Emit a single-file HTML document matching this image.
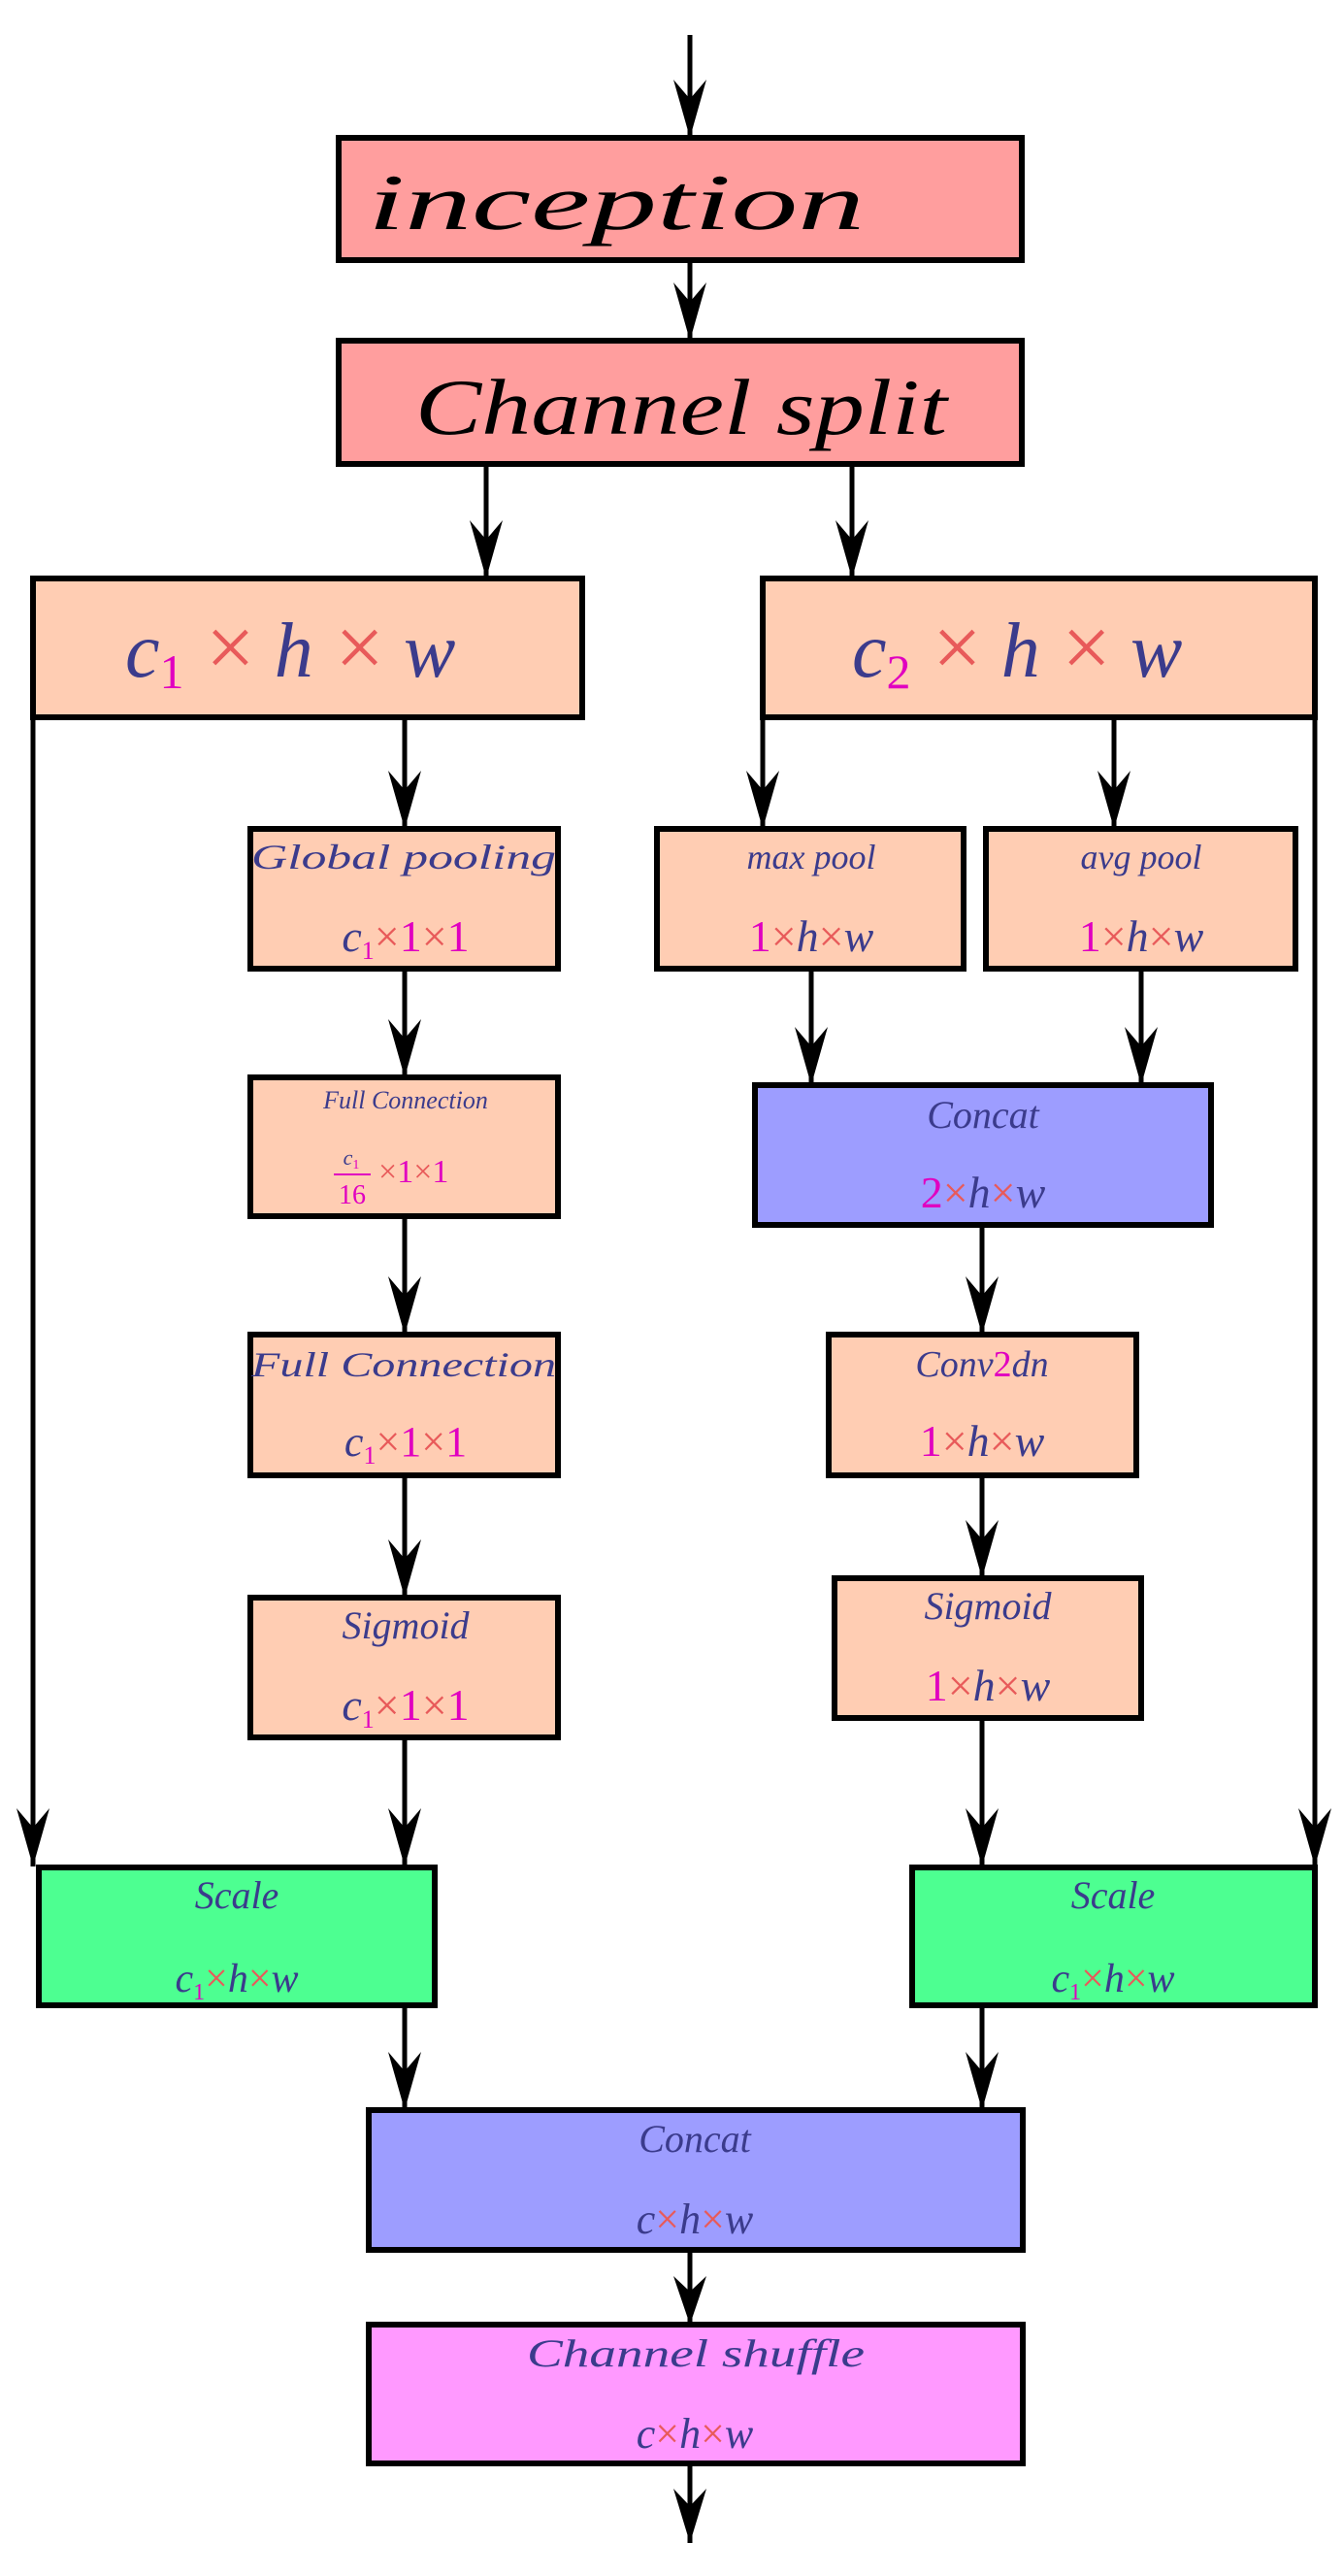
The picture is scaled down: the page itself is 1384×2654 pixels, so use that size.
<!DOCTYPE html>
<html><head><meta charset="utf-8"><style>
html,body{margin:0;padding:0;background:#fff;}
svg{display:block;}
text{font-family:"Liberation Serif",serif;}
.t{font-style:italic;fill:#3b3b8c;}
.x{fill:#e85a5a;font-style:normal;}
.m{fill:#e000c0;font-style:normal;}
</style></head><body>
<svg width="1384" height="2654" viewBox="0 0 1384 2654" xmlns="http://www.w3.org/2000/svg">
<defs>
<marker id="a" markerWidth="40" markerHeight="64" refX="20" refY="60" orient="auto" markerUnits="userSpaceOnUse" viewBox="0 0 40 64">
<path d="M20,62 L2,0 L20,20 L38,0 Z" fill="#000"/>
</marker>
</defs>
<g stroke="#000" stroke-width="5" fill="none">
<!-- arrows -->
<line x1="711" y1="36" x2="711" y2="142"/>
<line x1="711" y1="268" x2="711" y2="351"/>
<line x1="501" y1="478" x2="501" y2="596"/>
<line x1="878" y1="478" x2="878" y2="596"/>
<line x1="417" y1="739" x2="417" y2="854"/>
<line x1="786" y1="739" x2="786" y2="854"/>
<line x1="1148" y1="739" x2="1148" y2="854"/>
<line x1="836" y1="998" x2="836" y2="1118"/>
<line x1="1176" y1="998" x2="1176" y2="1118"/>
<line x1="417" y1="998" x2="417" y2="1110"/>
<line x1="417" y1="1253" x2="417" y2="1375"/>
<line x1="1012" y1="1262" x2="1012" y2="1375"/>
<line x1="417" y1="1520" x2="417" y2="1646"/>
<line x1="1012" y1="1520" x2="1012" y2="1626"/>
<line x1="34" y1="739" x2="34" y2="1923"/>
<line x1="1355" y1="739" x2="1355" y2="1923"/>
<line x1="417" y1="1790" x2="417" y2="1923"/>
<line x1="1012" y1="1770" x2="1012" y2="1923"/>
<line x1="417" y1="2066" x2="417" y2="2174"/>
<line x1="1012" y1="2066" x2="1012" y2="2174"/>
<line x1="711" y1="2318" x2="711" y2="2395"/>
<line x1="711" y1="2538" x2="711" y2="2620"/>
</g>
<g fill="#000">
<path d="M711,142 l-17,-60 l17,20 l17,-20z"/>
<path d="M711,351 l-17,-60 l17,20 l17,-20z"/>
<path d="M501,596 l-17,-60 l17,20 l17,-20z"/>
<path d="M878,596 l-17,-60 l17,20 l17,-20z"/>
<path d="M417,854 l-17,-60 l17,20 l17,-20z"/>
<path d="M786,854 l-17,-60 l17,20 l17,-20z"/>
<path d="M1148,854 l-17,-60 l17,20 l17,-20z"/>
<path d="M836,1118 l-17,-60 l17,20 l17,-20z"/>
<path d="M1176,1118 l-17,-60 l17,20 l17,-20z"/>
<path d="M417,1110 l-17,-60 l17,20 l17,-20z"/>
<path d="M417,1375 l-17,-60 l17,20 l17,-20z"/>
<path d="M1012,1375 l-17,-60 l17,20 l17,-20z"/>
<path d="M417,1646 l-17,-60 l17,20 l17,-20z"/>
<path d="M1012,1626 l-17,-60 l17,20 l17,-20z"/>
<path d="M34,1923 l-17,-60 l17,20 l17,-20z"/>
<path d="M1355,1923 l-17,-60 l17,20 l17,-20z"/>
<path d="M417,1923 l-17,-60 l17,20 l17,-20z"/>
<path d="M1012,1923 l-17,-60 l17,20 l17,-20z"/>
<path d="M417,2174 l-17,-60 l17,20 l17,-20z"/>
<path d="M1012,2174 l-17,-60 l17,20 l17,-20z"/>
<path d="M711,2395 l-17,-50 l17,16 l17,-16z"/>
<path d="M711,2620 l-17,-56 l17,18 l17,-18z"/>
</g>
<g stroke="#000" stroke-width="6">
<rect x="349" y="142" width="704" height="126" fill="#ff9e9e"/>
<rect x="349" y="351" width="704" height="127" fill="#ff9e9e"/>
<rect x="34" y="596" width="566" height="143" fill="#ffcdb3"/>
<rect x="786" y="596" width="569" height="143" fill="#ffcdb3"/>
<rect x="258" y="854" width="317" height="144" fill="#ffcdb3"/>
<rect x="677" y="854" width="316" height="144" fill="#ffcdb3"/>
<rect x="1016" y="854" width="319" height="144" fill="#ffcdb3"/>
<rect x="258" y="1110" width="317" height="143" fill="#ffcdb3"/>
<rect x="778" y="1118" width="470" height="144" fill="#9d9dff"/>
<rect x="258" y="1375" width="317" height="145" fill="#ffcdb3"/>
<rect x="854" y="1375" width="317" height="145" fill="#ffcdb3"/>
<rect x="258" y="1646" width="317" height="144" fill="#ffcdb3"/>
<rect x="860" y="1626" width="316" height="144" fill="#ffcdb3"/>
<rect x="40" y="1924" width="408" height="142" fill="#4dff91"/>
<rect x="940" y="1924" width="415" height="142" fill="#4dff91"/>
<rect x="380" y="2174" width="674" height="144" fill="#9d9dff"/>
<rect x="380" y="2395" width="674" height="143" fill="#ff99ff"/>
</g>
<!-- big labels -->
<text x="379" y="236" font-size="82" font-style="italic" fill="#000" textLength="512" lengthAdjust="spacingAndGlyphs">inception</text>
<text x="428" y="447" font-size="82" font-style="italic" fill="#000" textLength="548" lengthAdjust="spacingAndGlyphs">Channel split</text>
<text x="129" y="697" font-size="80" class="t">c<tspan class="m" font-size="50" dy="12">1</tspan><tspan class="x" dy="-12" font-size="90"> ×</tspan> h<tspan class="x" font-size="90"> ×</tspan> w</text>
<text x="878" y="697" font-size="80" class="t">c<tspan class="m" font-size="50" dy="12">2</tspan><tspan class="x" dy="-12" font-size="90"> ×</tspan> h<tspan class="x" font-size="90"> ×</tspan> w</text>
<!-- small boxes -->
<text x="416" y="895" font-size="36" class="t" text-anchor="middle" textLength="314" lengthAdjust="spacingAndGlyphs">Global pooling</text>
<text x="418" y="980" font-size="46" class="t" text-anchor="middle">c<tspan class="m" font-size="26" dy="8">1</tspan><tspan class="x" dy="-8">×</tspan><tspan class="m">1</tspan><tspan class="x">×</tspan><tspan class="m">1</tspan></text>
<text x="836" y="895" font-size="36" class="t" text-anchor="middle">max pool</text>
<text x="836" y="980" font-size="46" class="t" text-anchor="middle"><tspan class="m">1</tspan><tspan class="x">×</tspan>h<tspan class="x">×</tspan>w</text>
<text x="1176" y="895" font-size="36" class="t" text-anchor="middle">avg pool</text>
<text x="1176" y="980" font-size="46" class="t" text-anchor="middle"><tspan class="m">1</tspan><tspan class="x">×</tspan>h<tspan class="x">×</tspan>w</text>
<text x="418" y="1142" font-size="26" class="t" text-anchor="middle">Full Connection</text>
<text x="362" y="1200" font-size="22" class="t" text-anchor="middle">c<tspan class="m" font-size="14" dy="4">1</tspan></text>
<line x1="344" y1="1210" x2="382" y2="1210" stroke="#e000c0" stroke-width="2"/>
<text x="363" y="1240" font-size="28" class="m" text-anchor="middle">16</text>
<text x="390" y="1218" font-size="34" class="t"><tspan class="x">×</tspan><tspan class="m">1</tspan><tspan class="x">×</tspan><tspan class="m">1</tspan></text>
<text x="1013" y="1162" font-size="40" class="t" text-anchor="middle">Concat</text>
<text x="1013" y="1244" font-size="46" class="t" text-anchor="middle"><tspan class="m">2</tspan><tspan class="x">×</tspan>h<tspan class="x">×</tspan>w</text>
<text x="416" y="1418" font-size="36" class="t" text-anchor="middle" textLength="314" lengthAdjust="spacingAndGlyphs">Full Connection</text>
<text x="418" y="1500" font-size="44" class="t" text-anchor="middle">c<tspan class="m" font-size="26" dy="8">1</tspan><tspan class="x" dy="-8">×</tspan><tspan class="m">1</tspan><tspan class="x">×</tspan><tspan class="m">1</tspan></text>
<text x="1012" y="1418" font-size="38" class="t" text-anchor="middle">Conv<tspan class="m">2</tspan>dn</text>
<text x="1012" y="1500" font-size="46" class="t" text-anchor="middle"><tspan class="m">1</tspan><tspan class="x">×</tspan>h<tspan class="x">×</tspan>w</text>
<text x="418" y="1688" font-size="40" class="t" text-anchor="middle">Sigmoid</text>
<text x="418" y="1772" font-size="46" class="t" text-anchor="middle">c<tspan class="m" font-size="26" dy="8">1</tspan><tspan class="x" dy="-8">×</tspan><tspan class="m">1</tspan><tspan class="x">×</tspan><tspan class="m">1</tspan></text>
<text x="1018" y="1668" font-size="40" class="t" text-anchor="middle">Sigmoid</text>
<text x="1018" y="1752" font-size="46" class="t" text-anchor="middle"><tspan class="m">1</tspan><tspan class="x">×</tspan>h<tspan class="x">×</tspan>w</text>
<text x="244" y="1966" font-size="40" class="t" text-anchor="middle">Scale</text>
<text x="244" y="2052" font-size="42" class="t" text-anchor="middle">c<tspan class="m" font-size="24" dy="8">1</tspan><tspan class="x" dy="-8">×</tspan>h<tspan class="x">×</tspan>w</text>
<text x="1147" y="1966" font-size="40" class="t" text-anchor="middle">Scale</text>
<text x="1147" y="2052" font-size="42" class="t" text-anchor="middle">c<tspan class="m" font-size="24" dy="8">1</tspan><tspan class="x" dy="-8">×</tspan>h<tspan class="x">×</tspan>w</text>
<text x="716" y="2217" font-size="40" class="t" text-anchor="middle">Concat</text>
<text x="716" y="2301" font-size="44" class="t" text-anchor="middle">c<tspan class="x">×</tspan>h<tspan class="x">×</tspan>w</text>
<text x="717" y="2438" font-size="40" class="t" text-anchor="middle" textLength="348" lengthAdjust="spacingAndGlyphs">Channel shuffle</text>
<text x="716" y="2522" font-size="44" class="t" text-anchor="middle">c<tspan class="x">×</tspan>h<tspan class="x">×</tspan>w</text>
</svg>
</body></html>
